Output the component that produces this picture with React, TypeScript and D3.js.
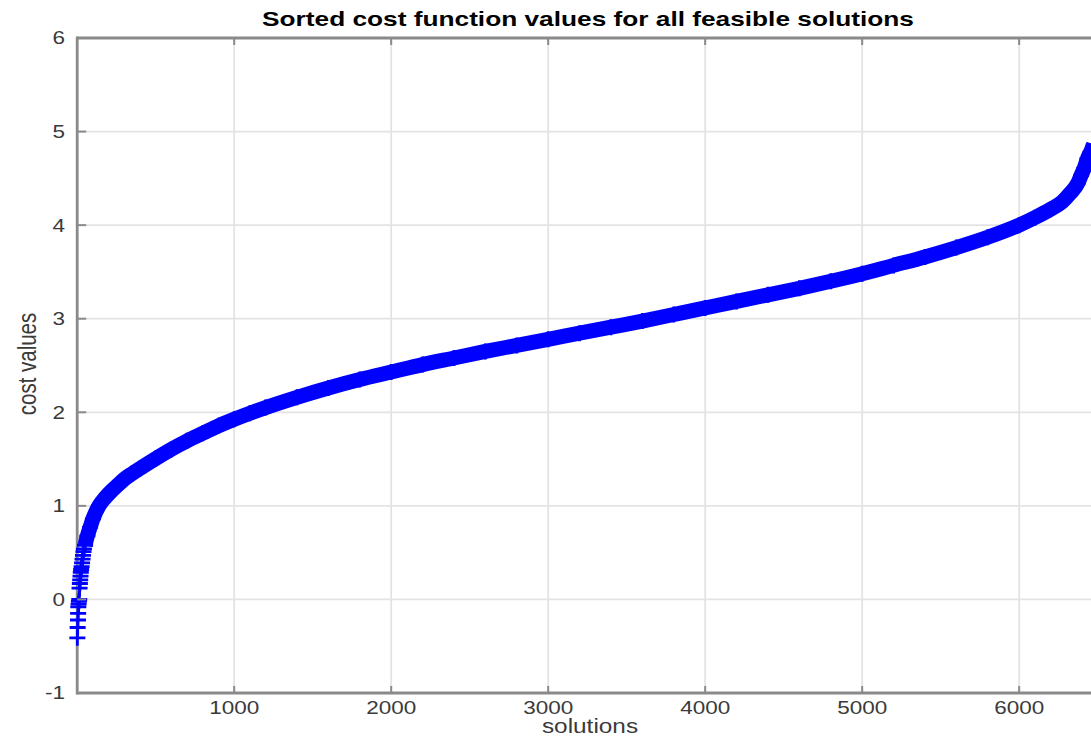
import * as d3 from 'd3'

// solution index / sorted cost
// first few solutions sit on separate levels
const leadIndex = [1, 3, 5, 6, 7, 9, 11, 13, 15, 17, 19, 21, 23, 25, 28, 31, 34, 37, 40, 43, 50]
const leadCost = [-0.41, -0.3, -0.22, -0.15, -0.08, -0.05, -0.02, 0.0, 0.12, 0.17, 0.21, 0.25, 0.29, 0.32, 0.35, 0.39, 0.43, 0.47, 0.51, 0.54, 0.58]

// rest of the sorted curve
const bandIndex = [50, 65, 82, 100, 139, 180, 222, 260, 300, 350, 400, 500, 600, 700, 800, 900, 1000, 1100, 1200, 1400, 1600, 1800, 2000, 2200, 2400, 2600, 2800, 3000, 3200, 3400, 3600, 3800, 4000, 4200, 4400, 4600, 4800, 5000, 5200, 5400, 5600, 5800, 6000, 6100, 6200, 6275, 6325, 6374, 6394, 6415, 6435, 6455, 6475]
const bandCost = [0.58, 0.68, 0.77, 0.86, 1.0, 1.09, 1.165, 1.225, 1.285, 1.345, 1.4, 1.505, 1.605, 1.695, 1.775, 1.855, 1.925, 1.99, 2.05, 2.16, 2.26, 2.35, 2.43, 2.51, 2.58, 2.65, 2.715, 2.78, 2.845, 2.91, 2.975, 3.045, 3.115, 3.185, 3.255, 3.325, 3.4, 3.48, 3.57, 3.66, 3.76, 3.87, 4.0, 4.08, 4.17, 4.25, 4.34, 4.45, 4.53, 4.61, 4.71, 4.78, 4.86]

const xTicks = [1000, 2000, 3000, 4000, 5000, 6000]
const yTicks = [-1, 0, 1, 2, 3, 4, 5, 6]

const W = 1091
const H = 736
const SX = 1.25 // the source image is stretched sideways
const FONT = '"Liberation Sans", Arial, sans-serif'
const BLUE = '#0000ff'
const AXIS = '#8a8a8a'
const TXT = '#3a3a3a'

export default function App() {
  const x = d3.scaleLinear().domain([0, 6534]).range([77.2, 1103])
  const y = d3.scaleLinear().domain([-1, 6]).range([693, 38])
  const left = x(0)
  const right = x(6534)
  const top = y(6)
  const bottom = y(-1)

  const lead = leadIndex.map((i, k) => ({ i, v: leadCost[k] }))
  const band = bandIndex.map((i, k) => ({ i, v: bandCost[k] }))

  const line = d3.line<{ i: number; v: number }>()
    .x(d => x(d.i))
    .y(d => y(d.v))
    .curve(d3.curveMonotoneX)

  const plus = 'M-8,0H8M0,-8V8'

  return (
    <svg width={W} height={H} style={{ position: 'absolute', left: 0, top: 0, background: '#fff' }}>
      {/* grid */}
      {xTicks.map(t => (
        <line key={'gx' + t} x1={x(t)} x2={x(t)} y1={top} y2={bottom} stroke="#e3e3e3" strokeWidth={1.8} />
      ))}
      {yTicks.slice(1, -1).map(t => (
        <line key={'gy' + t} x1={left} x2={right} y1={y(t)} y2={y(t)} stroke="#e3e3e3" strokeWidth={1.8} />
      ))}

      {/* axes box */}
      <line x1={left} x2={right} y1={top} y2={top} stroke={AXIS} strokeWidth={2.8} />
      <line x1={left} x2={right} y1={bottom} y2={bottom} stroke={AXIS} strokeWidth={2.8} />
      <line x1={left} x2={left} y1={top - 1.4} y2={bottom + 1.4} stroke={AXIS} strokeWidth={2.8} />

      {/* data */}
      <path d={line(band) || ''} fill="none" stroke={BLUE} strokeWidth={15} />
      {band.map((d, k) => (
        <path key={'b' + k} d={plus} transform={`translate(${x(d.i)},${y(d.v)})`} stroke={BLUE} strokeWidth={2.8} />
      ))}
      {lead.map((d, k) => (
        <path key={'l' + k} d={plus} transform={`translate(${x(d.i)},${y(d.v)})`} stroke={BLUE} strokeWidth={2.8} />
      ))}

      {/* ticks */}
      {xTicks.map(t => (
        <g key={'tx' + t}>
          <line x1={x(t)} x2={x(t)} y1={top} y2={top + 7} stroke={AXIS} strokeWidth={2} />
          <line x1={x(t)} x2={x(t)} y1={bottom} y2={bottom - 7} stroke={AXIS} strokeWidth={2} />
          <text
            transform={`translate(${x(t)},714) scale(${SX},1)`}
            textAnchor="middle"
            fontFamily={FONT}
            fontSize={18}
            fill={TXT}
          >
            {t}
          </text>
        </g>
      ))}
      {yTicks.map(t => (
        <g key={'ty' + t}>
          <line x1={left} x2={left + 9} y1={y(t)} y2={y(t)} stroke={AXIS} strokeWidth={2} />
          <text
            transform={`translate(65,${y(t)}) scale(${SX},1)`}
            textAnchor="end"
            dy="0.36em"
            fontFamily={FONT}
            fontSize={18}
            fill={TXT}
          >
            {t}
          </text>
        </g>
      ))}

      {/* labels */}
      <text
        transform={`translate(588,26) scale(${SX},1)`}
        textAnchor="middle"
        fontFamily={FONT}
        fontSize={21}
        fontWeight="bold"
        fill="#000"
      >
        Sorted cost function values for all feasible solutions
      </text>
      <text
        transform={`translate(590,733) scale(${SX},1)`}
        textAnchor="middle"
        fontFamily={FONT}
        fontSize={19.5}
        fill={TXT}
      >
        solutions
      </text>
      <text
        transform={`translate(36,364) scale(${SX},1) rotate(-90)`}
        textAnchor="middle"
        fontFamily={FONT}
        fontSize={20.5}
        fill={TXT}
      >
        cost values
      </text>
    </svg>
  )
}
